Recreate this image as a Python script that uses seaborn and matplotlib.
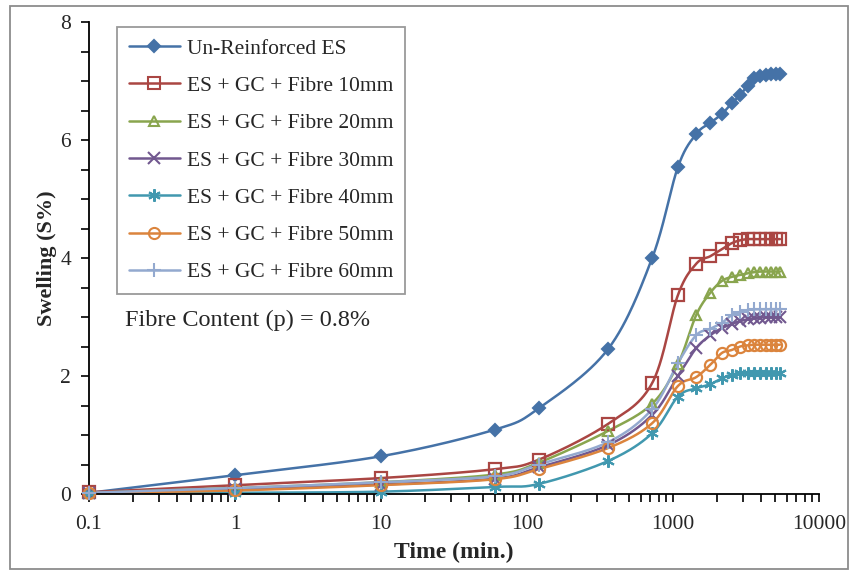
import numpy as np
import pandas as pd
import matplotlib
matplotlib.use("Agg")
import matplotlib.pyplot as plt
import seaborn as sns
from matplotlib.lines import Line2D
from matplotlib.patches import Rectangle
from matplotlib.ticker import LogLocator, MultipleLocator, FuncFormatter

# ---------------- data ----------------
time_min = [0.1, 1, 10, 60, 120, 360, 720, 1080, 1440, 1800, 2160, 2520,
            2880, 3240, 3600, 3960, 4320, 4680, 5040, 5400]

unreinforced = [0.02, 0.32, 0.64, 1.09, 1.45, 2.46, 4.0, 5.54, 6.1, 6.29, 6.44,
                6.62, 6.76, 6.92, 7.05, 7.08, 7.11, 7.12, 7.12, 7.12]
fibre_10 = [0.03, 0.15, 0.27, 0.42, 0.58, 1.19, 1.88, 3.37, 3.9, 4.03, 4.15,
            4.25, 4.3, 4.32, 4.32, 4.32, 4.32, 4.32, 4.32, 4.32]
fibre_20 = [0.02, 0.1, 0.2, 0.33, 0.53, 1.07, 1.53, 2.2, 3.03, 3.41, 3.61,
            3.68, 3.71, 3.74, 3.76, 3.77, 3.77, 3.77, 3.77, 3.77]
fibre_30 = [0.02, 0.08, 0.16, 0.26, 0.45, 0.83, 1.34, 2.0, 2.47, 2.69, 2.81,
            2.88, 2.93, 2.96, 2.98, 2.99, 3.0, 3.0, 3.0, 3.0]
fibre_40 = [0.01, 0.02, 0.04, 0.12, 0.17, 0.56, 1.03, 1.65, 1.79, 1.86, 1.96,
            2.02, 2.05, 2.05, 2.05, 2.05, 2.05, 2.05, 2.05, 2.05]
fibre_50 = [0.02, 0.06, 0.15, 0.25, 0.42, 0.78, 1.2, 1.83, 1.98, 2.19, 2.39,
            2.44, 2.5, 2.52, 2.53, 2.53, 2.53, 2.53, 2.53, 2.53]
fibre_60 = [0.02, 0.1, 0.2, 0.3, 0.5, 0.88, 1.44, 2.22, 2.69, 2.8, 2.9,
            3.03, 3.08, 3.12, 3.13, 3.13, 3.13, 3.13, 3.13, 3.13]

series_names = ["Un-Reinforced ES", "ES + GC + Fibre 10mm", "ES + GC + Fibre 20mm",
                "ES + GC + Fibre 30mm", "ES + GC + Fibre 40mm", "ES + GC + Fibre 50mm",
                "ES + GC + Fibre 60mm"]
series_values = [unreinforced, fibre_10, fibre_20, fibre_30, fibre_40, fibre_50, fibre_60]

# ---------------- styles ----------------
colors = ["#4572A7", "#AA4643", "#89A54E", "#71588F", "#4198AF", "#DB843D", "#93A9CF"]
markers = ["D", "s", "^", "x", (6, 2, 0), "o", "+"]
msizes = [6, 8, 7, 8, 9, 8, 10]
filled = [True, False, False, True, True, False, True]


def smooth(x, y, n=30):
    """Excel-like smoothed line (Catmull-Rom Bezier) in log-x / linear-y space."""
    u = np.log10(np.asarray(x, float)) * 146.0
    v = np.asarray(y, float) * 59.0
    P = np.column_stack([u, v])
    P_ext = np.vstack([P[0], P, P[-1]])
    out = []
    for i in range(len(P) - 1):
        p0, p1, p2, p3 = P_ext[i], P_ext[i + 1], P_ext[i + 2], P_ext[i + 3]
        b1 = p1 + (p2 - p0) / 6.0
        b2 = p2 - (p3 - p1) / 6.0
        t = np.linspace(0, 1, n, endpoint=(i == len(P) - 2))[:, None]
        seg = ((1 - t) ** 3) * p1 + 3 * ((1 - t) ** 2) * t * b1 + 3 * (1 - t) * t ** 2 * b2 + t ** 3 * p2
        out.append(seg)
    pts = np.vstack(out)
    return 10 ** (pts[:, 0] / 146.0), pts[:, 1] / 59.0


sns.set_style("ticks")
plt.rcParams["font.family"] = ["Liberation Serif", "DejaVu Serif"]

fig = plt.figure(figsize=(8.54, 5.74), dpi=100)
ax = fig.add_axes([89 / 854, 80 / 574, (819 - 89) / 854, (494 - 22) / 574])

handles = []
for name, vals, c, m, ms, f in zip(series_names, series_values, colors, markers, msizes, filled):
    sx, sy = smooth(time_min, vals)
    df = pd.DataFrame({"t": sx, "s": sy})
    sns.lineplot(data=df, x="t", y="s", ax=ax, color=c, lw=1.8, sort=False,
                 estimator=None, legend=False, zorder=2)
    mfc = c if f else "none"
    ax.plot(time_min, vals, ls="none", marker=m, ms=ms, mfc=mfc, mec=c,
            mew=1.6 if not f else 1.5, zorder=3, clip_on=False)
    handles.append(Line2D([0], [0], color=c, lw=1.8, marker=m, ms=ms, mfc=mfc,
                          mec=c, mew=1.5))

ax.set_xscale("log")
ax.set_xlim(0.1, 10000)
ax.set_ylim(0, 8)
ax.yaxis.set_major_locator(MultipleLocator(2))
ax.yaxis.set_minor_locator(MultipleLocator(0.5))
ax.xaxis.set_major_locator(LogLocator(base=10, numticks=10))
ax.xaxis.set_minor_locator(LogLocator(base=10, subs=np.arange(2, 10), numticks=20))
ax.xaxis.set_major_formatter(FuncFormatter(lambda v, p: ("%g" % v)))
ax.yaxis.set_major_formatter(FuncFormatter(lambda v, p: ("%d" % v)))
ax.tick_params(axis="both", which="both", direction="out", color="black", width=1.2)
ax.tick_params(axis="both", which="major", length=6, labelsize=15.5)
ax.tick_params(axis="x", which="major", pad=9)
ax.tick_params(axis="y", which="major", pad=7)
ax.tick_params(axis="y", which="minor", length=6)
ax.tick_params(axis="x", which="minor", length=6)
for s in ["top", "right"]:
    ax.spines[s].set_visible(False)
for s in ["left", "bottom"]:
    ax.spines[s].set_color("black")
    ax.spines[s].set_linewidth(1.3)

ax.set_xlabel("Time (min.)", fontsize=17, fontweight="bold", labelpad=6)
ax.set_ylabel("Swelling (S%)", fontsize=16, fontweight="bold", labelpad=2)

leg = ax.legend(handles, series_names, loc="upper left", bbox_to_anchor=(0.038, 0.99),
                fontsize=15.5, frameon=True, fancybox=False, edgecolor="#808080",
                handlelength=2.4, labelspacing=0.8, borderpad=0.55, handletextpad=0.3,
                borderaxespad=0)
leg.get_frame().set_linewidth(1.3)

ax.text(125, 574 - 320, "Fibre Content (p) = 0.8%", transform=None, fontsize=17.5,
        va="center", ha="left")

fig.patches.append(Rectangle((10 / 854, 5 / 574), 838 / 854, 563 / 574,
                             transform=fig.transFigure, fill=False,
                             edgecolor="#8c8c8c", lw=1.3))

fig.savefig("out.png", dpi=100)
